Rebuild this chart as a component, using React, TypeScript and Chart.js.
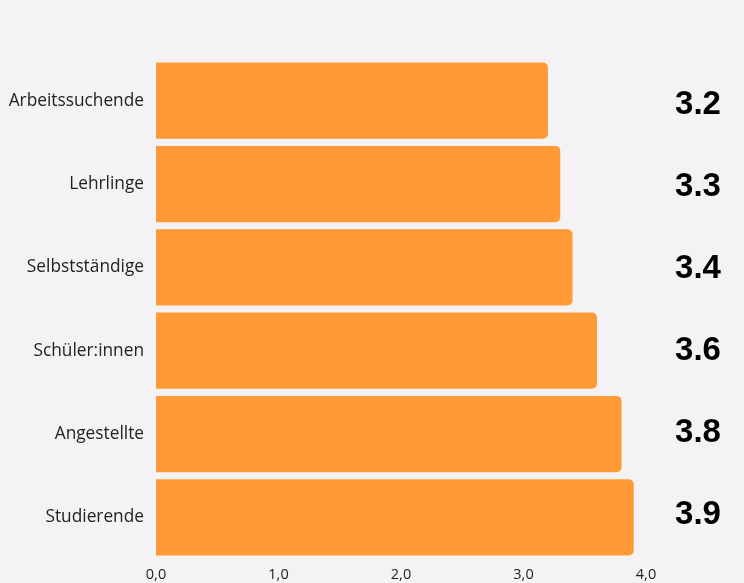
import React, { useEffect, useRef } from "react";
import { Chart, registerables } from "chart.js";

Chart.register(...registerables);

const categories = ["Arbeitssuchende", "Lehrlinge", "Selbstständige", "Schüler:innen", "Angestellte", "Studierende"];
const values = [3.2, 3.3, 3.4, 3.6, 3.8, 3.9];
const valueLabels = ["3.2", "3.3", "3.4", "3.6", "3.8", "3.9"];
const xTicks = [0, 1, 2, 3, 4];

const BG = "#F4F2F5";
const BAR = "#FF9A36";

export default function App() {
  const ref = useRef<HTMLCanvasElement | null>(null);
  useEffect(() => {
    document.body.style.margin = "0";
    document.body.style.background = BG;
    const valuePlugin = {
      id: "valueLabels",
      afterDatasetsDraw(chart: any) {
        const ctx = chart.ctx;
        const meta = chart.getDatasetMeta(0);
        ctx.save();
        ctx.font = "bold 33px 'Liberation Sans', Arial, sans-serif";
        ctx.fillStyle = "#000";
        ctx.textAlign = "center";
        ctx.textBaseline = "middle";
        meta.data.forEach((bar: any, i: number) => {
          ctx.fillText(valueLabels[i], 698, bar.y + 4.5 - 1.3 * i);
        });
        ctx.restore();
      },
    };
    const chart = new Chart(ref.current!, {
      type: "bar",
      data: {
        labels: categories,
        datasets: [
          {
            data: values,
            backgroundColor: BAR,
            borderRadius: 5,
            borderSkipped: "start",
            categoryPercentage: 0.915,
            barPercentage: 1,
          },
        ],
      },
      options: {
        indexAxis: "y",
        animation: false,
        responsive: false,
        layout: { padding: { top: 59, right: 98, left: 0, bottom: 0 } },
        plugins: { legend: { display: false }, tooltip: { enabled: false } },
        scales: {
          x: {
            min: 0,
            max: 4,
            afterFit(scale: any) {
              scale.height = 24;
            },
            afterBuildTicks(scale: any) {
              scale.ticks = xTicks.map((v) => ({ value: v }));
            },
            grid: { display: false, drawTicks: false },
            border: { display: false },
            ticks: {
              padding: 7,
              color: "#222",
              font: { family: "'Open Sans', sans-serif", size: 14.5 },
              callback: (v: any) => Number(v).toFixed(1).replace(".", ","),
            },
          },
          y: {
            afterFit(scale: any) {
              scale.width = 156;
            },
            grid: { display: false, drawTicks: false },
            border: { display: false },
            ticks: {
              padding: 12,
              color: "#222",
              font: { family: "'Open Sans', sans-serif", size: 17.3 },
            },
          },
        },
      },
      plugins: [valuePlugin],
    });
    return () => chart.destroy();
  }, []);
  return (
    <div style={{ width: 744, height: 583, background: BG }}>
      <canvas ref={ref} width={744} height={583} style={{ display: "block" }} />
    </div>
  );
}
